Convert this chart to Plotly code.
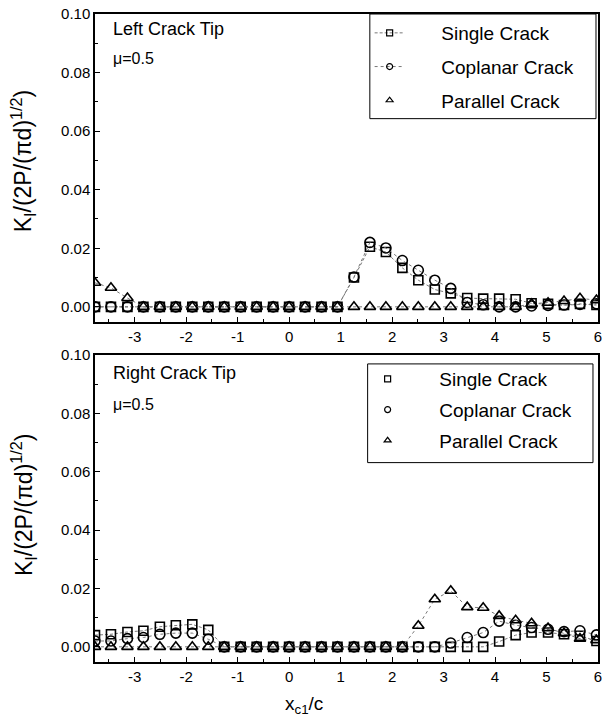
import plotly.graph_objects as go

# ---------------- data ----------------
x_c1 = [-3.77, -3.46, -3.14, -2.83, -2.51, -2.20, -1.88, -1.57, -1.26, -0.94, -0.63, -0.31,
        0.00, 0.31, 0.63, 0.94, 1.26, 1.57, 1.88, 2.20, 2.51, 2.83, 3.14, 3.46, 3.77,
        4.08, 4.40, 4.71, 5.03, 5.34, 5.65, 5.97]

left_single = [0, 0, 0, 0, 0, 0, 0, 0, 0, 0, 0, 0, 0, 0, 0, 0,
               0.0100, 0.0205, 0.0187, 0.0133, 0.0091, 0.0059, 0.0046, 0.0030, 0.0028,
               0.0028, 0.0026, 0.0012, 0.0010, 0.0006, 0.0010, 0.0006]
left_coplanar = [0, 0, 0, 0, 0, 0, 0, 0, 0, 0, 0, 0, 0, 0, 0, 0,
                 0.0102, 0.0220, 0.0201, 0.0158, 0.0125, 0.0091, 0.0063, 0.0015, 0.0007,
                 0.0, 0.0, 0.0003, 0.0005, 0.0006, 0.0008, 0.0010]
left_parallel = [0.0082, 0.0065, 0.0030, 0, 0, 0, 0, 0, 0, 0, 0, 0, 0, 0, 0, 0,
                 0, 0, 0, 0, 0, 0, 0, 0, 0, 0, 0,
                 0.0010, 0.0014, 0.0020, 0.0029, 0.0023]

right_single = [0.0040, 0.0043, 0.0051, 0.0055, 0.0069, 0.0074, 0.0077, 0.0058,
                0, 0, 0, 0, 0, 0, 0, 0, 0, 0, 0, 0, 0, 0, 0, 0, 0,
                0.0018, 0.0040, 0.0049, 0.0049, 0.0043, 0.0038, 0.0020]
right_coplanar = [0.0020, 0.0020, 0.0028, 0.0032, 0.0043, 0.0047, 0.0047, 0.0026,
                  0, 0, 0, 0, 0, 0, 0, 0, 0, 0, 0, 0, 0, 0,
                  0.0013, 0.0032, 0.0049, 0.0088, 0.0074, 0.0066, 0.0060, 0.0052, 0.0055, 0.0041]
right_parallel = [0, 0, 0, 0, 0, 0, 0, 0, 0, 0, 0, 0, 0, 0, 0, 0, 0, 0, 0, 0,
                  0.0072, 0.0163, 0.0192, 0.0136, 0.0134, 0.0106, 0.0091, 0.0081,
                  0.0064, 0.0047, 0.0028, 0.0023]

series_names = ["Single Crack", "Coplanar Crack", "Parallel Crack"]
x_ticks = [-3, -2, -1, 0, 1, 2, 3, 4, 5, 6]
y_ticks = [0.00, 0.02, 0.04, 0.06, 0.08, 0.10]

# ---------------- styles ----------------
FONT = "Liberation Sans, Arial, Helvetica, sans-serif"
symbols = ["square-open", "circle-open", "triangle-up-open"]
sizes = [9, 10, 10]
dashes = ["3px,2px", "dot", "dot"]
LINE_COLOR = "#777777"
PAD = "\u00a0" * 6

fig = go.Figure()


def add_series(yvals, idx, xaxis, yaxis, legend, legend_line):
    # data: line + markers, no legend
    fig.add_trace(go.Scatter(
        x=x_c1, y=yvals, mode="lines+markers", xaxis=xaxis, yaxis=yaxis,
        line=dict(color=LINE_COLOR, width=1, dash=dashes[idx]),
        marker=dict(symbol=symbols[idx], size=sizes[idx], color="black",
                    line=dict(color="black", width=1.6)),
        showlegend=False, hoverinfo="skip"))
    # legend-only entry with small symbol
    fig.add_trace(go.Scatter(
        x=[None], y=[None], mode="lines+markers" if legend_line else "markers",
        xaxis=xaxis, yaxis=yaxis, name=PAD + series_names[idx],
        legend=legend, legendgroup=legend + str(idx),
        line=dict(color=LINE_COLOR, width=1, dash=dashes[idx]),
        marker=dict(symbol=symbols[idx], size=6, color="black",
                    line=dict(color="black", width=1.2))))


top_data = [left_single, left_coplanar, left_parallel]
bot_data = [right_single, right_coplanar, right_parallel]
for i in range(3):
    add_series(top_data[i], i, "x", "y", "legend", i < 2)
for i in range(3):
    add_series(bot_data[i], i, "x2", "y2", "legend2", False)

axis_common = dict(
    showline=True, linecolor="black", linewidth=1.5, mirror=True,
    ticks="inside", ticklen=5, tickwidth=1.2, tickcolor="black",
    showgrid=False, zeroline=False,
    tickfont=dict(family=FONT, size=15, color="black"),
)
xcommon = dict(axis_common, range=[-3.77, 6.0], tickvals=x_ticks,
               ticktext=[str(v) for v in x_ticks],
               minor=dict(ticks="inside", ticklen=3, tickcolor="black", dtick=0.5, tick0=0))
ycommon = dict(axis_common, range=[-0.0052, 0.10], tickvals=y_ticks,
               ticktext=["%.2f" % v for v in y_ticks],
               minor=dict(ticks="inside", ticklen=3, tickcolor="black", dtick=0.01, tick0=0))

top_dom = [0.5246, 1.0]
bot_dom = [0.0, 0.4738]

legend_common = dict(
    bgcolor="rgba(0,0,0,0)", borderwidth=0,
    font=dict(family=FONT, size=19, color="black"),
    xanchor="left", yanchor="top",
    itemwidth=30,
)

fig.update_layout(
    width=607, height=722,
    margin=dict(l=95, r=5, t=12, b=60),
    paper_bgcolor="white", plot_bgcolor="white",
    font=dict(family=FONT, color="black"),
    xaxis=dict(xcommon, anchor="y", domain=[0, 1]),
    yaxis=dict(ycommon, domain=top_dom, anchor="x"),
    xaxis2=dict(xcommon, anchor="y2", domain=[0, 1]),
    yaxis2=dict(ycommon, domain=bot_dom, anchor="x2"),
    legend=dict(legend_common, x=0.546, y=1.0, tracegroupgap=6),
    legend2=dict(legend_common, x=0.542, y=0.466, tracegroupgap=3),
)

# legend frames
for x0, x1, y0, y1 in [(0.5464, 0.996, 0.8385, 1.0), (0.542, 0.990, 0.3077, 0.46)]:
    fig.add_shape(type="rect", xref="paper", yref="paper", x0=x0, x1=x1, y0=y0, y1=y1,
                  line=dict(color="black", width=1), fillcolor="white", layer="above")

annots = [
    ("Left Crack Tip", 0.032, 0.977, 18),
    ("μ=0.5", 0.032, 0.931, 16),
    ("Right Crack Tip", 0.032, 0.446, 18),
    ("μ=0.5", 0.032, 0.397, 16),
]
for text, ax, ay, fs in annots:
    fig.add_annotation(text=text, x=ax, y=ay, xref="paper", yref="paper",
                       xanchor="left", yanchor="middle", showarrow=False,
                       font=dict(family=FONT, size=fs, color="black"))

ytitle = "K<sub>I</sub>/(2P/(πd)<sup>1/2</sup>)"
for yc in [0.772, 0.2415]:
    fig.add_annotation(text=ytitle, x=-0.144, y=yc, xref="paper", yref="paper",
                       xanchor="center", yanchor="middle", textangle=-90,
                       showarrow=False, font=dict(family=FONT, size=23, color="black"))

fig.add_annotation(text="x<sub>c1</sub>/c", x=0.416, y=-0.066, xref="paper", yref="paper",
                   xanchor="center", yanchor="middle", showarrow=False,
                   font=dict(family=FONT, size=19, color="black"))

fig.write_html("out.html")
